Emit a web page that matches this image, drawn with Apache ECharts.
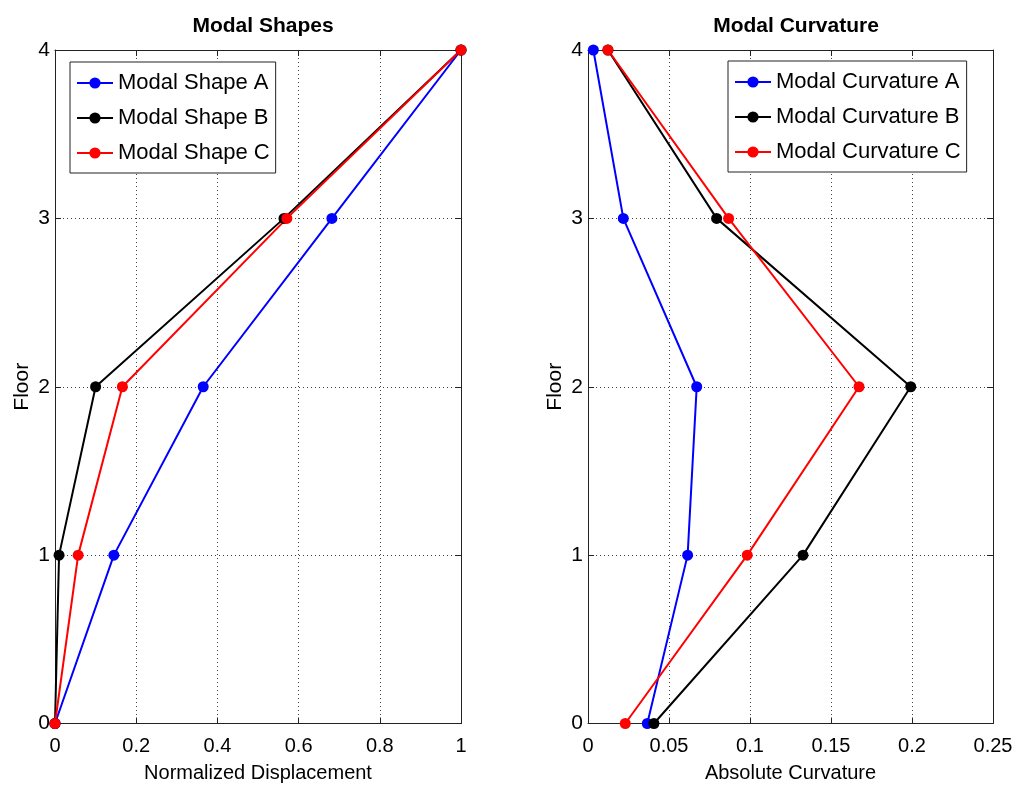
<!DOCTYPE html>
<html>
<head>
<meta charset="utf-8">
<script src="https://cdn.jsdelivr.net/npm/echarts@6/dist/echarts.min.js"></script>
<style>html,body{margin:0;padding:0;background:#fff}#c{width:1019px;height:789px}</style>
</head>
<body>
<div id="c"></div>
<script>
// Data
const floors = [0, 1, 2, 3, 4];
const shapeA = [0, 0.145, 0.365, 0.682, 1];
const shapeB = [0, 0.010, 0.100, 0.564, 1];
const shapeC = [0, 0.057, 0.166, 0.571, 1];
const curvA = [0.0366, 0.0615, 0.0671, 0.0218, 0.0033];
const curvB = [0.0407, 0.1327, 0.1992, 0.0794, 0.0123];
const curvC = [0.0230, 0.0983, 0.1673, 0.0868, 0.0123];
const shapeNames = ['Modal Shape A', 'Modal Shape B', 'Modal Shape C'];
const curvNames = ['Modal Curvature A', 'Modal Curvature B', 'Modal Curvature C'];
const colors = ['#0000ff', '#000000', '#ff0000'];

const FONT = 'Liberation Sans, Arial, Helvetica, sans-serif';
const pairs = (xs) => xs.map((x, i) => [x, floors[i]]);

function xAxes(gi, max, interval, name) {
  const common = {
    gridIndex: gi, type: 'value', min: 0, max: max, interval: interval,
    axisLine: { show: true, onZero: false, lineStyle: { color: '#222', width: 1 } },
    axisTick: { show: true, inside: true, length: 6, lineStyle: { color: '#222' } },
  };
  return [
    Object.assign({}, common, {
      position: 'bottom', name: name, nameLocation: 'middle', nameGap: 40,
      nameTextStyle: { fontFamily: FONT, fontSize: 20, color: '#000' },
      axisLabel: { fontFamily: FONT, fontSize: 20, color: '#000', margin: 13 },
      splitLine: { show: true, lineStyle: { color: '#444', type: [1, 3], width: 1 } }
    }),
    Object.assign({}, common, {
      position: 'top', axisLabel: { show: false }, splitLine: { show: false }
    })
  ];
}
function yAxes(gi) {
  const common = {
    gridIndex: gi, type: 'value', min: 0, max: 4, interval: 1,
    axisLine: { show: true, onZero: false, lineStyle: { color: '#222', width: 1 } },
    axisTick: { show: true, inside: true, length: 6, lineStyle: { color: '#222' } },
  };
  return [
    Object.assign({}, common, {
      position: 'left', name: 'Floor', nameLocation: 'middle', nameGap: 22,
      nameTextStyle: { fontFamily: FONT, fontSize: 21, color: '#000' },
      axisLabel: { fontFamily: FONT, fontSize: 21, color: '#000', margin: 5 },
      splitLine: { show: true, lineStyle: { color: '#444', type: [1, 3], width: 1 } }
    }),
    Object.assign({}, common, {
      position: 'right', axisLabel: { show: false }, splitLine: { show: false }
    })
  ];
}

function mkSeries(name, xs, ci, xi, yi) {
  return {
    type: 'line', name: name, data: pairs(xs), xAxisIndex: xi, yAxisIndex: yi,
    symbol: 'circle', symbolSize: 11, clip: false, animation: false,
    lineStyle: { color: colors[ci], width: 2 },
    itemStyle: { color: colors[ci] }
  };
}

const legendCommon = {
  orient: 'vertical', backgroundColor: '#fff', borderColor: '#222', borderWidth: 1,
  itemWidth: 36, itemHeight: 14, itemGap: 11, padding: [9, 6, 8, 6],
  textStyle: { fontFamily: FONT, fontSize: 22, color: '#000', lineHeight: 24 }
};

const chart = echarts.init(document.getElementById('c'), null, { renderer: 'canvas' });
chart.setOption({
  backgroundColor: '#fff',
  animation: false,
  title: [
    { text: 'Modal Shapes', left: 258, top: 11, textAlign: 'center',
      textStyle: { fontFamily: FONT, fontSize: 21, fontWeight: 'bold', color: '#000' } },
    { text: 'Modal Curvature', left: 791, top: 11, textAlign: 'center',
      textStyle: { fontFamily: FONT, fontSize: 21, fontWeight: 'bold', color: '#000' } }
  ],
  grid: [
    { left: 55, right: 558, top: 50, bottom: 65.5 },
    { left: 588, right: 26, top: 50, bottom: 65.5 }
  ],
  xAxis: [].concat(xAxes(0, 1, 0.2, 'Normalized Displacement'), xAxes(1, 0.25, 0.05, 'Absolute Curvature')),
  yAxis: [].concat(yAxes(0), yAxes(1)),
  legend: [
    Object.assign({}, legendCommon, { data: shapeNames, left: 70, top: 62 }),
    Object.assign({}, legendCommon, { data: curvNames, left: 728, top: 61 })
  ],
  series: [
    mkSeries(shapeNames[0], shapeA, 0, 0, 0),
    mkSeries(shapeNames[1], shapeB, 1, 0, 0),
    mkSeries(shapeNames[2], shapeC, 2, 0, 0),
    mkSeries(curvNames[0], curvA, 0, 2, 2),
    mkSeries(curvNames[1], curvB, 1, 2, 2),
    mkSeries(curvNames[2], curvC, 2, 2, 2)
  ]
});
</script>
</body>
</html>
